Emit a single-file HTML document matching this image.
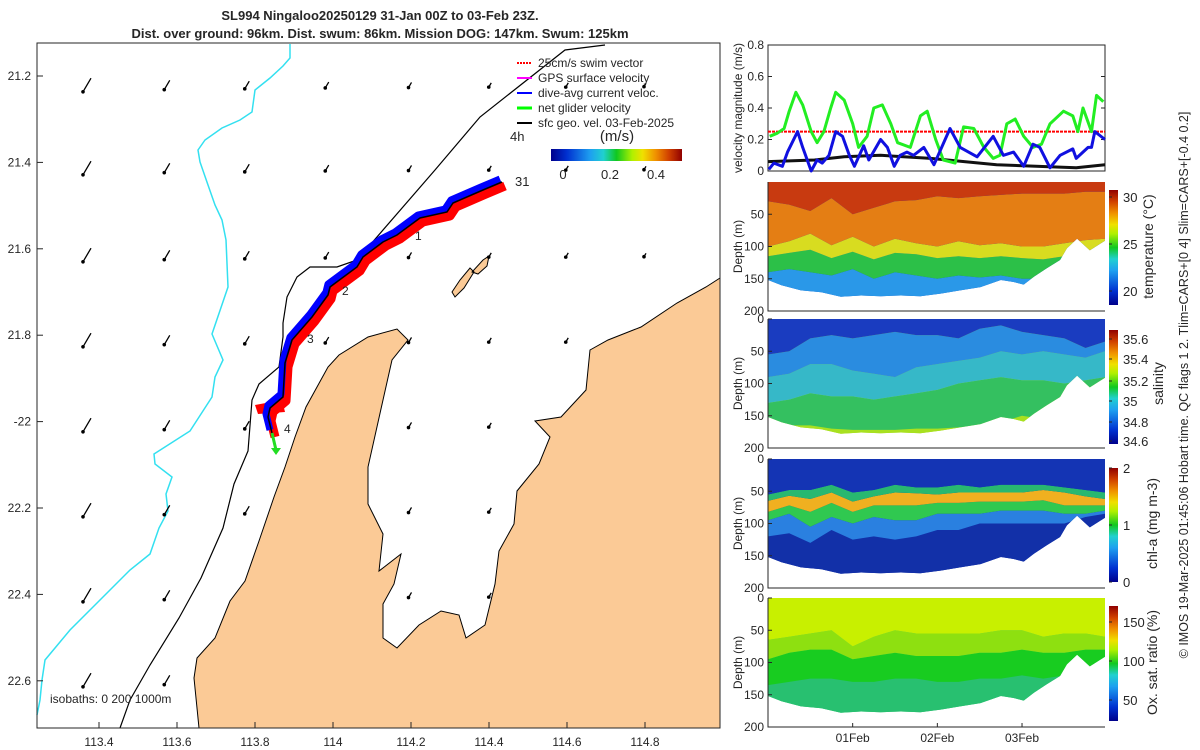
<!DOCTYPE html>
<html><head><meta charset="utf-8">
<style>
html,body{margin:0;padding:0;background:#fff;}
svg{display:block;font-family:"Liberation Sans",sans-serif;}
text{fill:#262626;}
</style></head>
<body>
<svg id="fig" width="1200" height="750" viewBox="0 0 1200 750">
<defs>
<linearGradient id="jetH" x1="0" x2="1" y1="0" y2="0">
<stop offset="0" stop-color="#00008b"/><stop offset="0.12" stop-color="#0030d0"/><stop offset="0.3" stop-color="#1ea0f0"/><stop offset="0.4" stop-color="#20d0d0"/><stop offset="0.5" stop-color="#10c820"/><stop offset="0.62" stop-color="#b0f000"/><stop offset="0.7" stop-color="#f0e000"/><stop offset="0.8" stop-color="#f09000"/><stop offset="0.9" stop-color="#d04000"/><stop offset="1" stop-color="#900000"/>
</linearGradient>
<linearGradient id="jetV" x1="0" x2="0" y1="1" y2="0">
<stop offset="0" stop-color="#00008b"/><stop offset="0.12" stop-color="#0030d0"/><stop offset="0.3" stop-color="#1ea0f0"/><stop offset="0.4" stop-color="#20d0d0"/><stop offset="0.5" stop-color="#10c820"/><stop offset="0.62" stop-color="#b0f000"/><stop offset="0.7" stop-color="#f0e000"/><stop offset="0.8" stop-color="#f09000"/><stop offset="0.9" stop-color="#d04000"/><stop offset="1" stop-color="#900000"/>
</linearGradient>
</defs>

<text x="380" y="20" text-anchor="middle" font-size="13" font-weight="bold">SL994 Ningaloo20250129 31-Jan 00Z to 03-Feb 23Z.</text>
<text x="380" y="38" text-anchor="middle" font-size="13" font-weight="bold">Dist. over ground: 96km. Dist. swum: 86km. Mission DOG: 147km. Swum: 125km</text>

<g id="map">
<rect x="37" y="43" width="683" height="685" fill="#fff"/>
<path id="land" d="M199,728 L194,678 197,658 215,638 230,601 245,581 259,541 274,497 285,467 295,437 306,407 317,387 328,367 339,355 368,337 397,329 408,340 392,360 383,400 368,467 368,504 383,534 379,571 401,554 394,584 383,604 383,638 397,648 419,625 441,611 459,615 466,638 485,625 495,584 499,551 514,524 517,491 539,464 550,437 535,421 561,417 586,390 590,350 608,340 641,327 677,303 706,287 720,278 L720,728 Z" fill="#fbca96" stroke="#000" stroke-width="1"/>
<path d="M483,260 L489,256 487,266 478,274 472,272 Z M470,268 L474,272 464,288 455,297 452,292 460,280 Z" fill="#fbca96" stroke="#000" stroke-width="1"/>
<path d="M605,45 L565,50 480,117 435,170 357,260 337,267 310,267 297,277 287,297 283,323 283,337 279,367 259,384 252,400 248,451 234,484 223,528 201,578 179,618 150,665 130,700 120,728" fill="none" stroke="#000" stroke-width="1.2"/>
<path d="M290,44 L290,58 283,66 270,78 255,90 252,112 240,120 222,128 205,140 198,150 200,162 208,185 215,205 222,220 226,240 228,287 212,334 223,360 215,377 212,397 190,431 154,454 155,464 172,477 166,494 168,511 159,528 150,554 130,570 110,590 90,610 70,630 55,648 45,660 42,680 40,700 37,715" fill="none" stroke="#33e0f0" stroke-width="1.5"/>
<g id="arrows"></g>
<g id="track"></g>
<text x="415" y="240" font-size="12">1</text>
<text x="342" y="295" font-size="12">2</text>
<text x="307" y="343" font-size="12">3</text>
<text x="284" y="433" font-size="12">4</text>
<text x="515" y="186" font-size="13">31</text>
<text x="510" y="141" font-size="13">4h</text>
<text x="50" y="703" font-size="12">isobaths: 0   200  1000m</text>
<g>
<line x1="517" y1="63" x2="532" y2="63" stroke="#f00" stroke-width="2" stroke-dasharray="2,1"/>
<text x="538" y="67" font-size="12">25cm/s swim vector</text>
<line x1="517" y1="78" x2="532" y2="78" stroke="#f0f" stroke-width="2"/>
<text x="538" y="82" font-size="12">GPS surface velocity</text>
<line x1="517" y1="93" x2="532" y2="93" stroke="#00f" stroke-width="2"/>
<text x="538" y="97" font-size="12">dive-avg current veloc.</text>
<line x1="517" y1="108" x2="532" y2="108" stroke="#0f0" stroke-width="3"/>
<text x="538" y="112" font-size="12">net glider velocity</text>
<line x1="517" y1="123" x2="532" y2="123" stroke="#000" stroke-width="2"/>
<text x="538" y="127" font-size="12">sfc geo. vel. 03-Feb-2025</text>
</g>
<text x="617" y="141" text-anchor="middle" font-size="15">(m/s)</text>
<rect x="551" y="149" width="131" height="12" fill="url(#jetH)"/>
<text x="563" y="179" text-anchor="middle" font-size="13">0</text>
<text x="610" y="179" text-anchor="middle" font-size="13">0.2</text>
<text x="656" y="179" text-anchor="middle" font-size="13">0.4</text>
<g id="mapaxes"></g>
</g>

<g id="vel"></g>
<g id="sec"></g>

<text transform="translate(1188,385) rotate(-90)" text-anchor="middle" font-size="12.5">© IMOS 19-Mar-2025 01:45:06 Hobart time. QC flags 1  2. Tlim=CARS+[0 4] Slim=CARS+[-0.4 0.2]</text>
</svg>

<script>
const tGreen = [0.02,0.11,0.19,0.25,0.33,0.41,0.51,0.58,0.66,0.74,0.80,0.90,1.00,1.07,1.17,1.25,1.35,1.45,1.53,1.68,1.80,1.88,1.98,2.07,2.21,2.31,2.43,2.55,2.66,2.74,2.82,2.92,3.02,3.13,3.23,3.33,3.49,3.60,3.66,3.72,3.82,3.88,3.96];
const vGreen = [0.22,0.24,0.27,0.38,0.50,0.42,0.25,0.18,0.25,0.40,0.50,0.45,0.30,0.15,0.22,0.40,0.42,0.30,0.18,0.15,0.35,0.38,0.20,0.07,0.05,0.28,0.27,0.15,0.08,0.10,0.30,0.33,0.22,0.15,0.17,0.30,0.38,0.35,0.25,0.40,0.25,0.48,0.44];
const tBlue = [0.01,0.07,0.17,0.23,0.35,0.41,0.51,0.58,0.64,0.72,0.80,0.88,0.96,1.02,1.13,1.19,1.33,1.41,1.49,1.56,1.64,1.72,1.84,1.96,2.15,2.27,2.47,2.66,2.78,2.90,3.02,3.13,3.21,3.33,3.45,3.60,3.64,3.78,3.82,3.86,3.98];
const vBlue = [0.01,0.05,0.03,0.12,0.25,0.15,0.00,0.07,0.05,0.10,0.25,0.22,0.10,0.03,0.16,0.07,0.20,0.15,0.03,0.10,0.12,0.10,0.15,0.04,0.27,0.15,0.09,0.22,0.10,0.12,0.03,0.17,0.15,0.02,0.10,0.14,0.08,0.15,0.15,0.25,0.20];
const tBlack = [0.0,0.55,0.90,1.33,1.92,2.70,3.64,3.98];
const vBlack = [0.06,0.07,0.09,0.10,0.08,0.04,0.02,0.04];
const swimSpeed = 0.25;
const velTicks = [0,0.2,0.4,0.6,0.8];

const tGrid = [0,0.25,0.5,0.75,1,1.25,1.5,1.75,2,2.25,2.5,2.75,3,3.25,3.5,3.75,4.0];
const tBottom = [0.00,0.16,0.39,0.63,0.86,1.10,1.33,1.57,1.80,2.04,2.27,2.51,2.75,2.90,3.02,3.14,3.29,3.45,3.53,3.65,3.80,3.98];
const dBottom = [152,160,168,171,178,176,177,176,177,173,168,163,152,155,159,147,134,121,103,88,106,91];
const T29 = [30,35,45,25,50,40,30,28,22,25,22,20,18,18,18,15,15];
const T27 = [100,92,80,98,85,100,88,95,100,92,98,95,100,100,95,90,88];
const T25 = [115,110,105,118,108,120,110,112,118,115,118,115,118,120,115,110,105];
const T22 = [140,135,140,145,135,150,140,145,150,145,148,145,150,150,140,130,120];
const S1 = [55,50,30,25,30,25,20,25,25,30,15,10,20,25,30,45,35];
const S2 = [90,85,70,70,80,85,90,75,70,65,60,50,55,50,55,60,50];
const S3 = [130,125,115,120,120,125,120,115,110,100,95,90,95,95,100,95,90];
const S4 = [160,165,165,170,172,172,172,170,170,168,165,160,150,155,150,140,130];
const C1 = [55,48,48,40,52,48,40,44,44,40,44,40,40,40,44,48,52];
const C2 = [65,57,62,52,66,58,52,53,55,52,52,52,52,48,52,58,62];
const C3 = [82,72,82,68,82,72,72,72,68,68,66,66,66,64,72,72,72];
const C4 = [95,85,105,90,100,90,95,95,85,85,85,80,80,80,85,85,80];
const C5 = [120,115,130,110,125,120,125,120,110,110,100,100,100,100,100,90,85];
const O1 = [65,60,55,50,75,60,50,55,55,55,55,50,50,60,55,55,60];
const O2 = [95,85,80,80,95,90,85,90,90,90,85,85,80,85,85,80,80];
const O3 = [135,130,125,125,130,130,125,125,130,130,125,125,120,125,120,110,100];
const dateTicks = [1,2,3];
const dateLabels = ["01Feb","02Feb","03Feb"];
const depthTicks = [0,50,100,150,200];

const arrowCols = [87,167,247,327,410,490,567,645];
const arrowRows = [85,168,255,340,425,510,595,680];
const arrowLen = [16,11,9,7,6,5,5,4];
const lonTicks = [113.4,113.6,113.8,114,114.2,114.4,114.6,114.8];
const latTicks = [21.2,21.4,21.6,21.8,22,22.2,22.4,22.6];
const latLabels = ["21.2","21.4","21.6","21.8","-22","22.2","22.4","22.6"];
const trackX = [502,483,453,447,420,397,383,363,357,330,328,312,292,285,283,270,268,272];
const trackY = [182,190,203,212,218,235,242,257,267,287,295,317,340,363,397,408,417,433];

const NS='http://www.w3.org/2000/svg';
function mk(tag, attrs, parent){const e=document.createElementNS(NS,tag);for(const k in attrs)e.setAttribute(k,attrs[k]);parent.appendChild(e);return e;}

const PX0=768, PX1=1105;
const xT = t => PX0 + (t/3.98)*(PX1-PX0);
const VY0=171, VY1=45;
const yV = v => VY0 - v/0.8*(VY0-VY1);

const vel=document.getElementById('vel');
let r=mk('rect',{x:PX0,y:VY1,width:PX1-PX0,height:VY0-VY1,fill:'#fff',stroke:'#262626','stroke-width':1},vel);


velTicks.forEach(v=>{
  const y=yV(v);
  mk('line',{x1:PX0,y1:y,x2:PX0+4,y2:y,stroke:'#262626'},vel);
  mk('line',{x1:PX1,y1:y,x2:PX1-4,y2:y,stroke:'#262626'},vel);
  const tx=mk('text',{x:PX0-4,y:y+4,'text-anchor':'end','font-size':12},vel);
  tx.textContent=String(v);
  
  
});
let yl=mk('text',{transform:'translate(742,108) rotate(-90)','text-anchor':'middle','font-size':12},vel);
yl.textContent='velocity magnitude (m/s)';


function series(ts,vs,color,w,name,dash){
  const p=mk('polyline',{points:ts.map((t,i)=>xT(t).toFixed(1)+','+yV(vs[i]).toFixed(1)).join(' '),fill:'none',stroke:color,'stroke-width':w,'stroke-linejoin':'round'},vel);
  if(dash)p.setAttribute('stroke-dasharray',dash);
  
  
}
series([0,3.98],[swimSpeed,swimSpeed],'#f00',2,'swim-speed-line','3,1');
series(tBlack,vBlack,'#111',3,'geo-velocity-line');
series(tGreen,vGreen,'#22ee22',3,'net-glider-velocity-line');
series(tBlue,vBlue,'#1010e0',3,'dive-avg-current-line');

const sec=document.getElementById('sec');
const panels=[
 {top:182,name:'temperature',lab:'temperature (°C)',lx:1153,layers:[T29,T27,T25,T22],cols:['#c83a10','#e47e14','#d8dc20','#2cc048','#2a98e8'],bottom:'#1c4cc8',cb:{y0:190,y1:305,ticks:[[30,197],[25,244],[20,291]]}},
 {top:319,name:'salinity',lab:'salinity',lx:1163,layers:[S1,S2,S3,S4],cols:['#1a3cc0','#2a8ce0','#36b8c8','#34c060','#a8e020'],bottom:'#a8e020',cb:{y0:330,y1:444,ticks:[['35.6',339],['35.4',359],['35.2',381],['35',401],['34.8',422],['34.6',441]]}},
 {top:459,name:'chlorophyll',lab:'chl-a (mg m-3)',lx:1157,layers:[C1,C2,C3,C4,C5],cols:['#1434b4','#28b870','#f0b020','#30c850','#2a80e0','#1230a8'],bottom:'#1230a8',cb:{y0:468,y1:582,ticks:[['2',468],['1',525],['0',582]]}},
 {top:598,name:'oxygen',lab:'Ox. sat. ratio (%)',lx:1157,layers:[O1,O2,O3],cols:['#c8f000','#8ee010','#18cc20','#28c070'],bottom:'#28c070',cb:{y0:606,y1:721,ticks:[['150',622],['100',661],['50',700]]}}
];
const PH=129;
panels.forEach((P,pi)=>{
  const g=mk('g',{},sec);
  
  
  const yD=d=>P.top+d/200*PH;
  const cid='clip'+pi;
  const cp=mk('clipPath',{id:cid},g);
  let d='M'+xT(0)+','+yD(0)+' L'+xT(3.98)+','+yD(0);
  for(let i=tBottom.length-1;i>=0;i--) d+=' L'+xT(tBottom[i]).toFixed(1)+','+yD(dBottom[i]).toFixed(1);
  d+=' Z';
  mk('path',{d:d},cp);
  const fg=mk('g',{'clip-path':'url(#'+cid+')'},g);
  mk('rect',{x:PX0,y:P.top,width:PX1-PX0,height:PH,fill:P.bottom},fg);
  const L=P.layers;
  for(let k=L.length;k>=0;k--){
    const upper = k===0? null : L[k-1];
    const lower = k===L.length? null : L[k];
    let pts=[];
    tGrid.forEach((t,i)=>pts.push(xT(Math.min(t,3.98)).toFixed(1)+','+yD(upper?upper[i]:0).toFixed(1)));
    for(let i=tGrid.length-1;i>=0;i--) pts.push(xT(Math.min(tGrid[i],3.98)).toFixed(1)+','+yD(lower?lower[i]:200).toFixed(1));
    const b=mk('polygon',{points:pts.join(' '),fill:P.cols[k]},fg);
    
    
  }
  mk('polyline',{points:[[PX0,P.top],[PX0,P.top+PH],[PX1,P.top+PH]].map(p=>p.join(',')).join(' '),fill:'none',stroke:'#262626','stroke-width':1},g);
  depthTicks.forEach(dv=>{
    if(pi===0 && dv===0) return;
    const y=yD(dv);
    mk('line',{x1:PX0,y1:y,x2:PX0+4,y2:y,stroke:'#262626'},g);
    const tx=mk('text',{x:PX0-4,y:y+4,'text-anchor':'end','font-size':12},g);
    tx.textContent=String(dv);
    
    
  });
  const dl=mk('text',{transform:'translate(742,'+(P.top+PH/2)+') rotate(-90)','text-anchor':'middle','font-size':12},g);
  dl.textContent='Depth (m)';
  
  
  if(pi===3){
    dateTicks.forEach((t,i)=>{
      const x=xT(t);
      mk('line',{x1:x,y1:P.top+PH,x2:x,y2:P.top+PH-4,stroke:'#262626'},g);
      const tx=mk('text',{x:x,y:P.top+PH+15,'text-anchor':'middle','font-size':12},g);
      tx.textContent=dateLabels[i];
      
      
    });
  }
  const cb=mk('rect',{x:1109,y:P.cb.y0,width:9,height:P.cb.y1-P.cb.y0,fill:'url(#jetV)'},g);
  
  
  P.cb.ticks.forEach(tk=>{
    mk('line',{x1:1109,y1:tk[1],x2:1112,y2:tk[1],stroke:'#262626'},g);
    const tx=mk('text',{x:1123,y:tk[1]+5,'font-size':13},g);
    tx.textContent=String(tk[0]);
    
    
  });
  const cl=mk('text',{transform:'translate('+P.lx+','+(P.top+PH/2)+') rotate(-90)','text-anchor':'middle','font-size':14},g);
  cl.textContent=P.lab;
  
  
});

const land=document.getElementById('land');
const ag=document.getElementById('arrows');
arrowCols.forEach((cx,ci)=>{
  arrowRows.forEach(cy=>{
    let inLand=false;
    try{const pt=document.getElementById('fig').createSVGPoint();pt.x=cx;pt.y=cy;inLand=land.isPointInFill(pt);}catch(e){}
    if(inLand) return;
    const L=arrowLen[ci];
    const dx=-0.5*L, dy=0.85*L;
    const x0=cx-dx/2, y0=cy-dy/2;
    const x1=x0+dx, y1=y0+dy;
    const a=mk('line',{x1:x0,y1:y0,x2:x1,y2:y1,stroke:'#000','stroke-width':1.3},ag);
    
    
    mk('circle',{cx:x1,cy:y1,r:1.8,fill:'#000'},ag);
  });
});

const tg=document.getElementById('track');
const pts=(ox,oy)=>trackX.map((x,i)=>(x+ox)+','+(trackY[i]+oy)).join(' ');
let tr=mk('polyline',{points:pts(3,4),fill:'none',stroke:'#f00','stroke-width':9,'stroke-linejoin':'round'},tg);


mk('path',{d:'M255,405 L282,400 285,412 258,414 Z',fill:'#f00'},tg);
tr=mk('polyline',{points:pts(-2,-3),fill:'none',stroke:'#0000ff','stroke-width':7,'stroke-linejoin':'round'},tg);


tr=mk('polyline',{points:pts(0,0),fill:'none',stroke:'#000','stroke-width':1.5},tg);


mk('line',{x1:272,y1:433,x2:276,y2:450,stroke:'#22dd22','stroke-width':3},tg);
mk('path',{d:'M271,448 L281,448 276,455 Z',fill:'#22dd22'},tg);

const ma=document.getElementById('mapaxes');
mk('rect',{x:37,y:43,width:683,height:685,fill:'none',stroke:'#262626','stroke-width':1},ma);
lonTicks.forEach(lon=>{
  const x=333+390*(lon-114);
  mk('line',{x1:x,y1:728,x2:x,y2:722,stroke:'#262626'},ma);
  const tx=mk('text',{x:x,y:746,'text-anchor':'middle','font-size':12},ma);
  tx.textContent=String(lon);
  
  
});
latTicks.forEach((lat,i)=>{
  const y=76+(lat-21.2)*432;
  mk('line',{x1:37,y1:y,x2:43,y2:y,stroke:'#262626'},ma);
  const tx=mk('text',{x:31,y:y+4,'text-anchor':'end','font-size':12},ma);
  tx.textContent=latLabels[i];
  
  
});
</script>
</body></html>
